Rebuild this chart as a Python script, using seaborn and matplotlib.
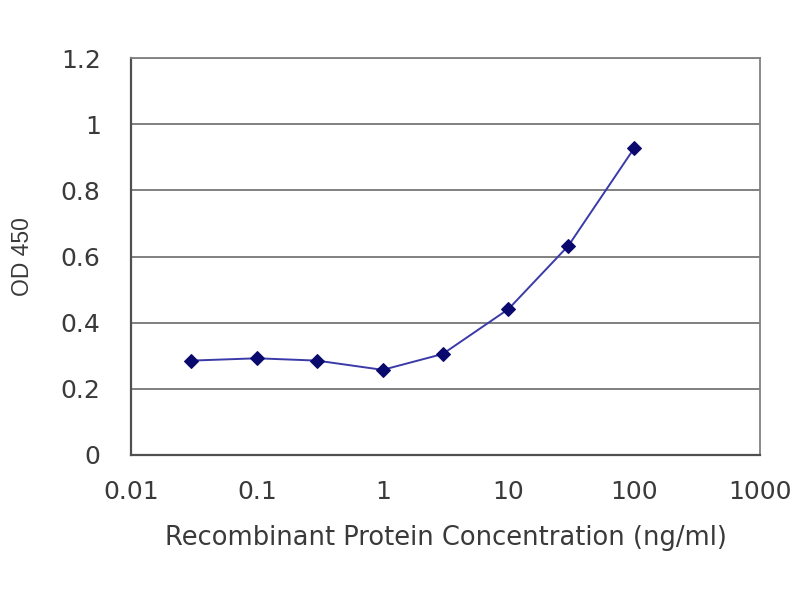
import matplotlib
matplotlib.use("Agg")
import matplotlib.pyplot as plt
import seaborn as sns
import pandas as pd

# Data
concentration = [0.03, 0.1, 0.3, 1, 3, 10, 30, 100]
od450 = [0.285, 0.292, 0.285, 0.257, 0.305, 0.441, 0.633, 0.928]
x_ticks = [0.01, 0.1, 1, 10, 100, 1000]
x_tick_labels = ["0.01", "0.1", "1", "10", "100", "1000"]
y_ticks = [0, 0.2, 0.4, 0.6, 0.8, 1, 1.2]
y_tick_labels = ["0", "0.2", "0.4", "0.6", "0.8", "1", "1.2"]

df = pd.DataFrame({"conc": concentration, "od": od450})

sns.set_style("white")
plt.rcParams["font.family"] = ["DejaVu Sans"]

fig = plt.figure(figsize=(8, 6), dpi=100)
ax = fig.add_axes([0.164, 0.242, 0.786, 0.661])

sns.lineplot(data=df, x="conc", y="od", ax=ax, color="#3a3aa8", linewidth=1.4,
             marker="D", markersize=7, markerfacecolor="#0a0a6e",
             markeredgecolor="#0a0a6e")

ax.set_xscale("log")
ax.set_xlim(0.01, 1000)
ax.set_ylim(0, 1.2)
ax.set_xticks(x_ticks)
ax.set_xticklabels(x_tick_labels)
ax.minorticks_off()
ax.set_yticks(y_ticks)
ax.set_yticklabels(y_tick_labels)

ax.yaxis.grid(True, color="#808080", linewidth=1.4)
ax.set_axisbelow(True)
for side, sp in ax.spines.items():
    sp.set_color("#808080")
    sp.set_linewidth(1.3)
ax.spines["left"].set_color("#505050")
ax.spines["bottom"].set_color("#505050")
ax.spines["left"].set_linewidth(1.6)
ax.spines["bottom"].set_linewidth(1.6)

ax.tick_params(axis="x", direction="in", length=4, colors="#888888",
               labelcolor="#3a3a3a", labelsize=18, pad=18)
ax.tick_params(axis="y", length=0, labelcolor="#3a3a3a", labelsize=18, pad=22)

ax.set_xlabel("Recombinant Protein Concentration (ng/ml)", fontsize=18.5,
              color="#3a3a3a")
ax.set_ylabel("OD 450", fontsize=16.5, color="#3a3a3a",
              family=["Liberation Sans", "DejaVu Sans"])
ax.xaxis.set_label_coords(0.5, -0.178)
ax.yaxis.set_label_coords(-0.155, 0.5)

fig.savefig("out.png", dpi=100)
